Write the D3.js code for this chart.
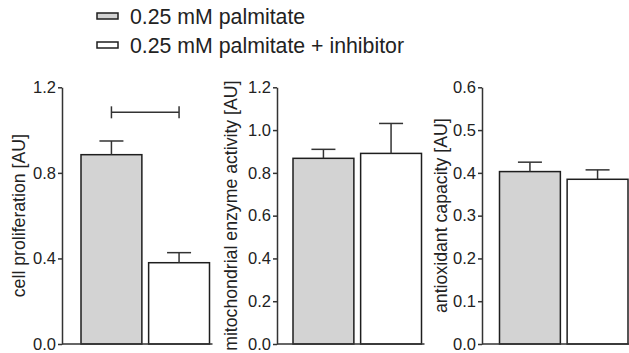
<!DOCTYPE html>
<html>
<head>
<meta charset="utf-8">
<script src="https://cdn.jsdelivr.net/npm/d3@7"></script>
<style>
  body { margin: 0; background: #fff; }
  svg { display: block; font-family: "Liberation Sans", Arial, sans-serif; }
  .axis path, .axis line { stroke: #333; stroke-width: 1.5; }
  .axis text { fill: #222; font-size: 16.5px; }
  .ylabel { fill: #222; font-size: 17.7px; }
  .legend-text { fill: #222; font-size: 21.3px; }
</style>
</head>
<body>
<svg id="chart" width="629" height="353"></svg>
<script>
// Groups (legend)
const groups = ["0.25 mM palmitate", "0.25 mM palmitate + inhibitor"];
const groupFill = ["#d3d3d3", "#ffffff"];

// Panel titles
const yLabels = ["cell proliferation [AU]", "mitochondrial enzyme activity [AU]", "antioxidant capacity [AU]"];

// Means and SEM per panel (palmitate, palmitate + inhibitor)
const proliferationMean = [0.885, 0.38];
const proliferationErr = [0.064, 0.047];
const mitoMean = [0.868, 0.891];
const mitoErr = [0.042, 0.14];
const antioxMean = [0.403, 0.385];
const antioxErr = [0.022, 0.022];

// Axis settings
const yMax = [1.2, 1.2, 0.6];
const yTicks = [[0, 0.4, 0.8, 1.2], [0, 0.2, 0.4, 0.6, 0.8, 1.0, 1.2], [0, 0.1, 0.2, 0.3, 0.4, 0.5, 0.6]];

// Significance bracket in first panel
const bracketLevel = 1.083;

const panels = [
  { mean: proliferationMean, err: proliferationErr, axisX: 62, barLeft: 81, barRight: 209.5, labelX: 25 },
  { mean: mitoMean, err: mitoErr, axisX: 277, barLeft: 293, barRight: 421.5, labelX: 237 },
  { mean: antioxMean, err: antioxErr, axisX: 482, barLeft: 499.5, barRight: 628, labelX: 447 }
];

const svg = d3.select("#chart");
const plotTop = 87.3, plotBottom = 344;

panels.forEach((p, i) => {
  const g = svg.append("g");

  const yScale = d3.scaleLinear().domain([0, yMax[i]]).range([plotBottom, plotTop]);
  const xScale = d3.scaleBand().domain(groups).range([p.barLeft, p.barRight]).paddingInner(0.1);

  // Bars
  g.selectAll(".bar")
    .data(groups)
    .enter()
    .append("rect")
    .attr("x", d => xScale(d))
    .attr("width", xScale.bandwidth())
    .attr("y", (d, j) => yScale(p.mean[j]))
    .attr("height", (d, j) => plotBottom - yScale(p.mean[j]))
    .attr("fill", (d, j) => groupFill[j])
    .attr("stroke", "#1e1e1e")
    .attr("stroke-width", 1.5);

  // Error bars (upper only)
  groups.forEach((d, j) => {
    const cx = xScale(d) + xScale.bandwidth() / 2;
    const yTop = yScale(p.mean[j] + p.err[j]);
    g.append("line")
      .attr("x1", cx).attr("x2", cx)
      .attr("y1", yScale(p.mean[j])).attr("y2", yTop)
      .attr("stroke", "#333").attr("stroke-width", 1.5);
    g.append("line")
      .attr("x1", cx - 12).attr("x2", cx + 12)
      .attr("y1", yTop).attr("y2", yTop)
      .attr("stroke", "#333").attr("stroke-width", 1.5);
  });

  // Baseline
  g.append("line")
    .attr("x1", p.axisX).attr("x2", p.barRight + 3)
    .attr("y1", plotBottom).attr("y2", plotBottom)
    .attr("stroke", "#333").attr("stroke-width", 1.5);

  // Y axis
  const axis = d3.axisLeft(yScale)
    .tickValues(yTicks[i])
    .tickFormat(d3.format(".1f"))
    .tickSize(4)
    .tickSizeOuter(0)
    .tickPadding(2);
  g.append("g")
    .attr("class", "axis")
    .attr("transform", `translate(${p.axisX},0)`)
    .call(axis);

  // Y label
  g.append("text")
    .attr("class", "ylabel")
    .attr("transform", "rotate(-90)")
    .attr("x", -(plotTop + plotBottom) / 2)
    .attr("y", p.labelX)
    .attr("text-anchor", "middle")
    .text(yLabels[i]);

  // Significance bracket
  if (i === 0) {
    const x1 = xScale(groups[0]) + xScale.bandwidth() / 2;
    const x2 = xScale(groups[1]) + xScale.bandwidth() / 2;
    const yb = yScale(bracketLevel);
    g.append("line").attr("x1", x1).attr("x2", x2).attr("y1", yb).attr("y2", yb)
      .attr("stroke", "#333").attr("stroke-width", 1.5);
    [x1, x2].forEach(x => {
      g.append("line").attr("x1", x).attr("x2", x).attr("y1", yb - 6).attr("y2", yb + 6)
        .attr("stroke", "#333").attr("stroke-width", 1.5);
    });
  }
});

// Legend
const legend = svg.append("g").attr("transform", "translate(97,0)");
groups.forEach((d, j) => {
  const row = legend.append("g").attr("transform", `translate(0,${13 + j * 29})`);
  row.append("rect")
    .attr("x", 0).attr("y", 0)
    .attr("width", 21).attr("height", 6)
    .attr("fill", groupFill[j])
    .attr("stroke", "#1e1e1e")
    .attr("stroke-width", 1.5);
  row.append("text")
    .attr("class", "legend-text")
    .attr("x", 33)
    .attr("y", 11)
    .text(d);
});
</script>
</body>
</html>
